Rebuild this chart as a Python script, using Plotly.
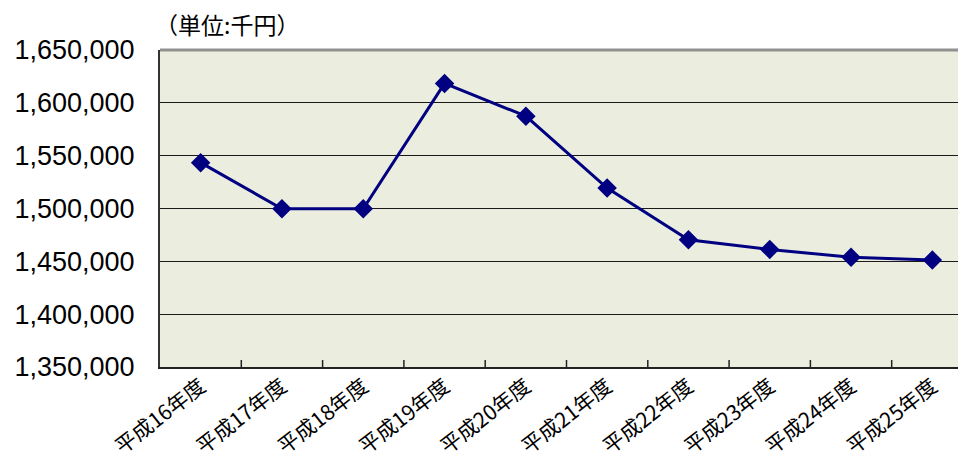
import plotly.graph_objects as go

categories = ["平成16年度", "平成17年度", "平成18年度", "平成19年度", "平成20年度",
              "平成21年度", "平成22年度", "平成23年度", "平成24年度", "平成25年度"]
values = [1543400, 1499700, 1499700, 1618400, 1587400,
          1519400, 1470400, 1461300, 1453800, 1451200]
y_ticks = [1350000, 1400000, 1450000, 1500000, 1550000, 1600000, 1650000]
y_tick_labels = [f"{v:,}" for v in y_ticks]
unit_label = "（単位:千円）"

fig = go.Figure()
fig.add_trace(go.Scatter(
    x=list(range(len(categories))), y=values, mode="lines+markers",
    line=dict(color="#000080", width=3),
    marker=dict(symbol="diamond", size=15, color="#000080"),
    showlegend=False, hoverinfo="skip",
))

# page body has an 8px margin, so the figure is sized/offset to compensate
fig.update_layout(
    width=958, height=452,
    margin=dict(l=152, r=0, t=42, b=93),
    paper_bgcolor="white",
    plot_bgcolor="#EBEEDF",
    font=dict(family="Liberation Sans, Noto Sans CJK JP, sans-serif", color="black"),
)
fig.update_xaxes(
    range=[-0.5, 9.414],
    tickmode="array",
    tickvals=list(range(len(categories))),
    ticktext=categories,
    tickangle=-38,
    tickfont=dict(size=21, family="Noto Sans CJK JP, sans-serif"),
    showgrid=False,
    showline=True, linecolor="#222222", linewidth=2,
    zeroline=False,
    ticks="",
    ticklabelstandoff=-3,
    automargin=False,
)
# boundary tick marks between categories
for i in range(len(categories)):
    b = i + 0.5
    if b < 9.414:
        fig.add_shape(type="line", xref="x", yref="paper", x0=b, x1=b, y0=0, y1=0.022,
                      line=dict(color="#222222", width=1.5))
fig.update_yaxes(
    range=[1350000, 1650000],
    tickmode="array",
    tickvals=y_ticks,
    ticktext=y_tick_labels,
    tickfont=dict(size=27, family="Liberation Sans, sans-serif"),
    showgrid=True, gridcolor="#1a1a1a", gridwidth=1,
    showline=True, linecolor="#333333", linewidth=2,
    zeroline=False,
    ticks="",
    ticklabelstandoff=18,
    automargin=False,
)
# top border of plot area
fig.add_shape(type="line", xref="paper", yref="paper", x0=0, x1=1, y0=1, y1=1,
              line=dict(color="#909090", width=3))
fig.add_annotation(
    text=unit_label, xref="paper", yref="paper", x=0, xshift=-6, y=1.0, yshift=8,
    xanchor="left", yanchor="bottom", showarrow=False, borderpad=0,
    font=dict(size=23, family="Noto Sans CJK JP, sans-serif", color="black"),
)

fig.write_html("out.html")
